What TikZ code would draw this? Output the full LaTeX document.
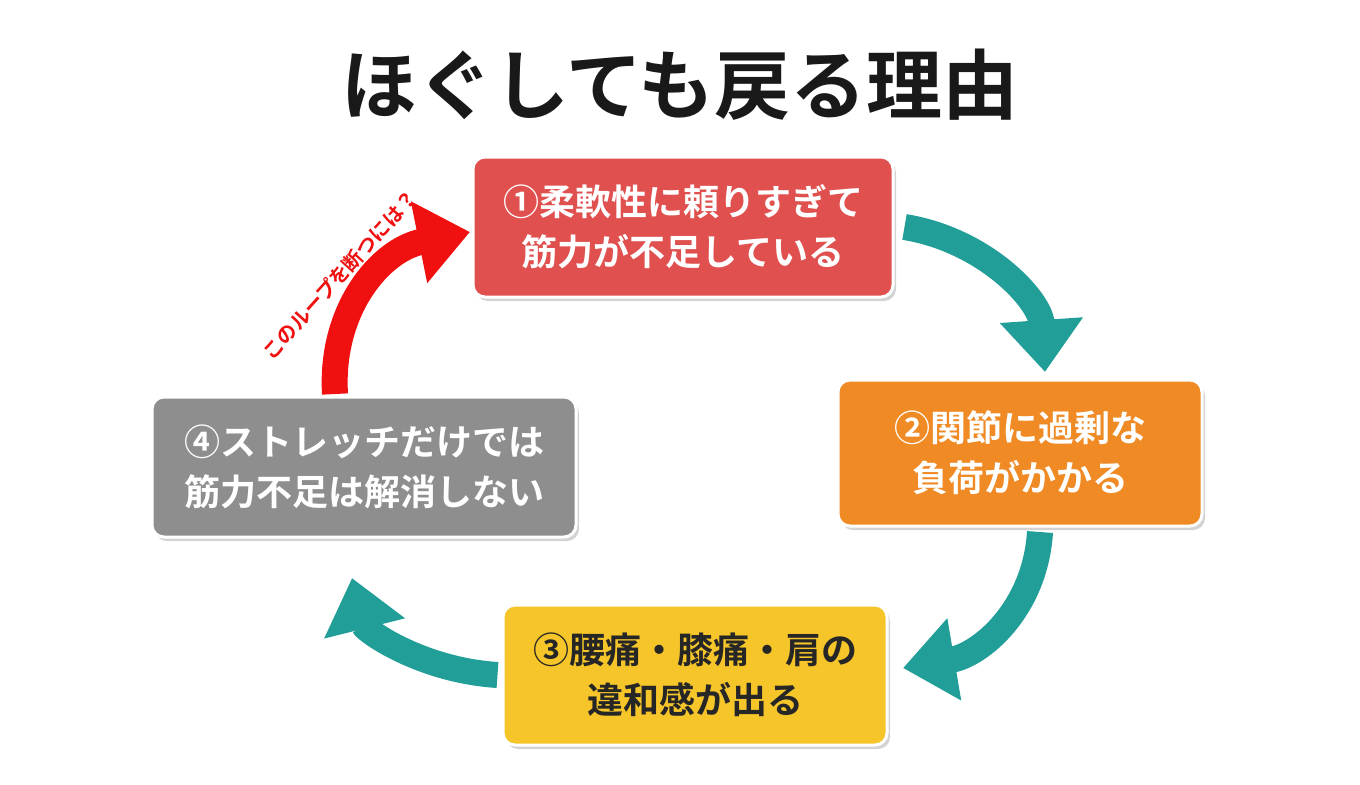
\documentclass[tikz,border=0pt]{standalone}
\usepackage{fontspec}
\setmainfont{Noto Sans CJK JP}[BoldFont={* Bold}]
\usetikzlibrary{arrows.meta, shadows}
\definecolor{boxred}{HTML}{E0504F}
\definecolor{boxorange}{HTML}{EF8A24}
\definecolor{boxyellow}{HTML}{F5C52A}
\definecolor{boxgray}{HTML}{8E8E8E}
\definecolor{loopteal}{HTML}{219E97}
\definecolor{breakred}{HTML}{F01010}

\begin{document}
\begin{tikzpicture}[
  x=0.5pt, y=-0.5pt,
  every node/.style={font=\bfseries},
  stage/.style={rectangle, rounded corners=6pt, draw=white, line width=1.5pt,
    minimum height=70pt, align=center, inner sep=4pt,
    font=\fontsize{18}{25}\bfseries, drop shadow={shadow xshift=1.5pt, shadow yshift=-2pt, opacity=0.35}},
  cyclearrow/.style={draw=loopteal, line width=13pt,
    -{Triangle[length=26pt,width=40pt]}},
  breakarrow/.style={draw=breakred, line width=13pt,
    -{Triangle[length=26pt,width=40pt]}}
]
\useasboundingbox (0,0) rectangle (1360,784);
% Title
\node[font=\fontsize{38}{44}\bfseries, text=black!90] (title) at (680,85) {ほぐしても戻る理由};

% Stages
\node[stage, fill=boxred, text=white, minimum width=210pt] (s1) at (683,227) {①柔軟性に頼りすぎて\\筋力が不足している};
\node[stage, fill=boxorange, text=white, minimum width=182pt, minimum height=73pt] (s2) at (1020,453) {②関節に過剰な\\負荷がかかる};
\node[stage, fill=boxyellow, text=black!85, minimum width=192pt] (s3) at (695,675) {③腰痛・膝痛・肩の\\違和感が出る};
\node[stage, fill=boxgray, text=white, minimum width=212pt] (s4) at (364,467) {④ストレッチだけでは\\筋力不足は解消しない};

% Loop arrows
\draw[cyclearrow] (s1.east) ++(10,0) coordinate (a1) .. controls (985,240) and (1040,300) .. (1045,372);
\draw[cyclearrow] (1040,532) coordinate (a2) .. controls (1035,610) and (980,655) .. (903,668);
\draw[cyclearrow] (s3.west) ++(-4,0) coordinate (a3) .. controls (420,670) and (365,630) .. (352,578);
\draw[breakarrow] (335,394) coordinate (a4) .. controls (330,310) and (380,250) .. (470,232);

% Label
\node[text=breakred, font=\fontsize{10}{12}\bfseries, rotate=48] (hint) at (340,275) {このループを断つには？};
\end{tikzpicture}
\end{document}
